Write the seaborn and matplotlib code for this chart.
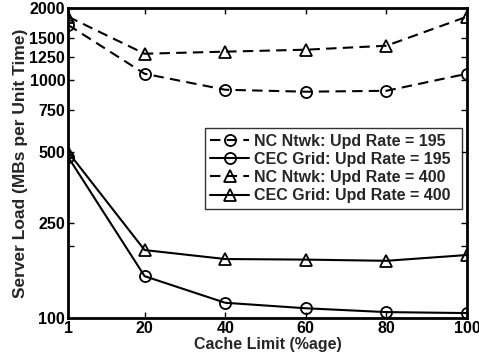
import matplotlib
matplotlib.use("Agg")
import matplotlib.pyplot as plt
import seaborn as sns
import pandas as pd
from matplotlib.ticker import FixedLocator, FixedFormatter, NullLocator

cache_limit = [1, 20, 40, 60, 80, 100]
nc_195 = [1700, 1060, 908, 891, 899, 1060]
cec_195 = [475, 150, 116, 110, 106, 105]
nc_400 = [1840, 1286, 1312, 1337, 1389, 1840]
cec_400 = [498, 193, 177, 176, 174, 184]
labels = ["NC Ntwk: Upd Rate = 195", "CEC Grid: Upd Rate = 195",
          "NC Ntwk: Upd Rate = 400", "CEC Grid: Upd Rate = 400"]
y_ticks = [100, 200, 250, 500, 750, 1000, 1250, 1500, 2000]
y_tick_labels = ["100", "", "250", "500", "750", "1000", "1250", "1500", "2000"]
x_ticks = [1, 20, 40, 60, 80, 100]

sns.set_style("ticks")
plt.rcParams['font.family'] = ['Liberation Sans', 'DejaVu Sans']
plt.rcParams['font.weight'] = 'bold'

fig = plt.figure(figsize=(4.79, 3.64), dpi=100)
ax = fig.add_axes([0.142, 0.126, 0.833, 0.852])

series = [nc_195, cec_195, nc_400, cec_400]
markers = ['o', 'o', '^', '^']
styles = ['--', '-', '--', '-']
for vals, lab, mk, ls in zip(series, labels, markers, styles):
    df = pd.DataFrame({"x": cache_limit, "y": vals})
    kw = dict(dashes=(5, 3)) if ls == '--' else dict(linestyle='-')
    sns.lineplot(data=df, x="x", y="y", ax=ax, color='black', linewidth=1.5,
                 marker=mk, markersize=8, markerfacecolor='none',
                 markeredgecolor='black', markeredgewidth=1.3, label=lab, **kw)

ax.set_yscale('log')
ax.set_xlim(1, 100)
ax.set_ylim(100, 2000)
ax.yaxis.set_major_locator(FixedLocator(y_ticks))
ax.yaxis.set_major_formatter(FixedFormatter(y_tick_labels))
ax.yaxis.set_minor_locator(NullLocator())
ax.set_xticks(x_ticks)
ax.set_xticklabels([str(v) for v in x_ticks])

for s in ax.spines.values():
    s.set_visible(True)
    s.set_linewidth(2)
    s.set_color('black')
ax.tick_params(direction='in', length=4, width=1, top=True, right=True,
               labelsize=11.5, pad=2, colors='black')
for t in ax.get_xticklabels() + ax.get_yticklabels():
    t.set_fontweight('bold')

ax.set_xlabel("Cache Limit (%age)", fontsize=11.5, fontweight='bold', labelpad=1)
ax.set_ylabel("Server Load (MBs per Unit Time)", fontsize=12.5, fontweight='bold', labelpad=1)

leg = ax.legend(loc='upper left', bbox_to_anchor=(0.343, 0.0, 0.644, 0.613),
                mode='expand', fontsize=11.5,
                frameon=True, fancybox=False, handlelength=2.4, handletextpad=0.3,
                borderpad=0.35, labelspacing=0.2, borderaxespad=0)
leg.get_frame().set_edgecolor('black')
leg.get_frame().set_linewidth(1)
for t in leg.get_texts():
    t.set_fontweight('bold')

fig.savefig("out.png", dpi=100)
